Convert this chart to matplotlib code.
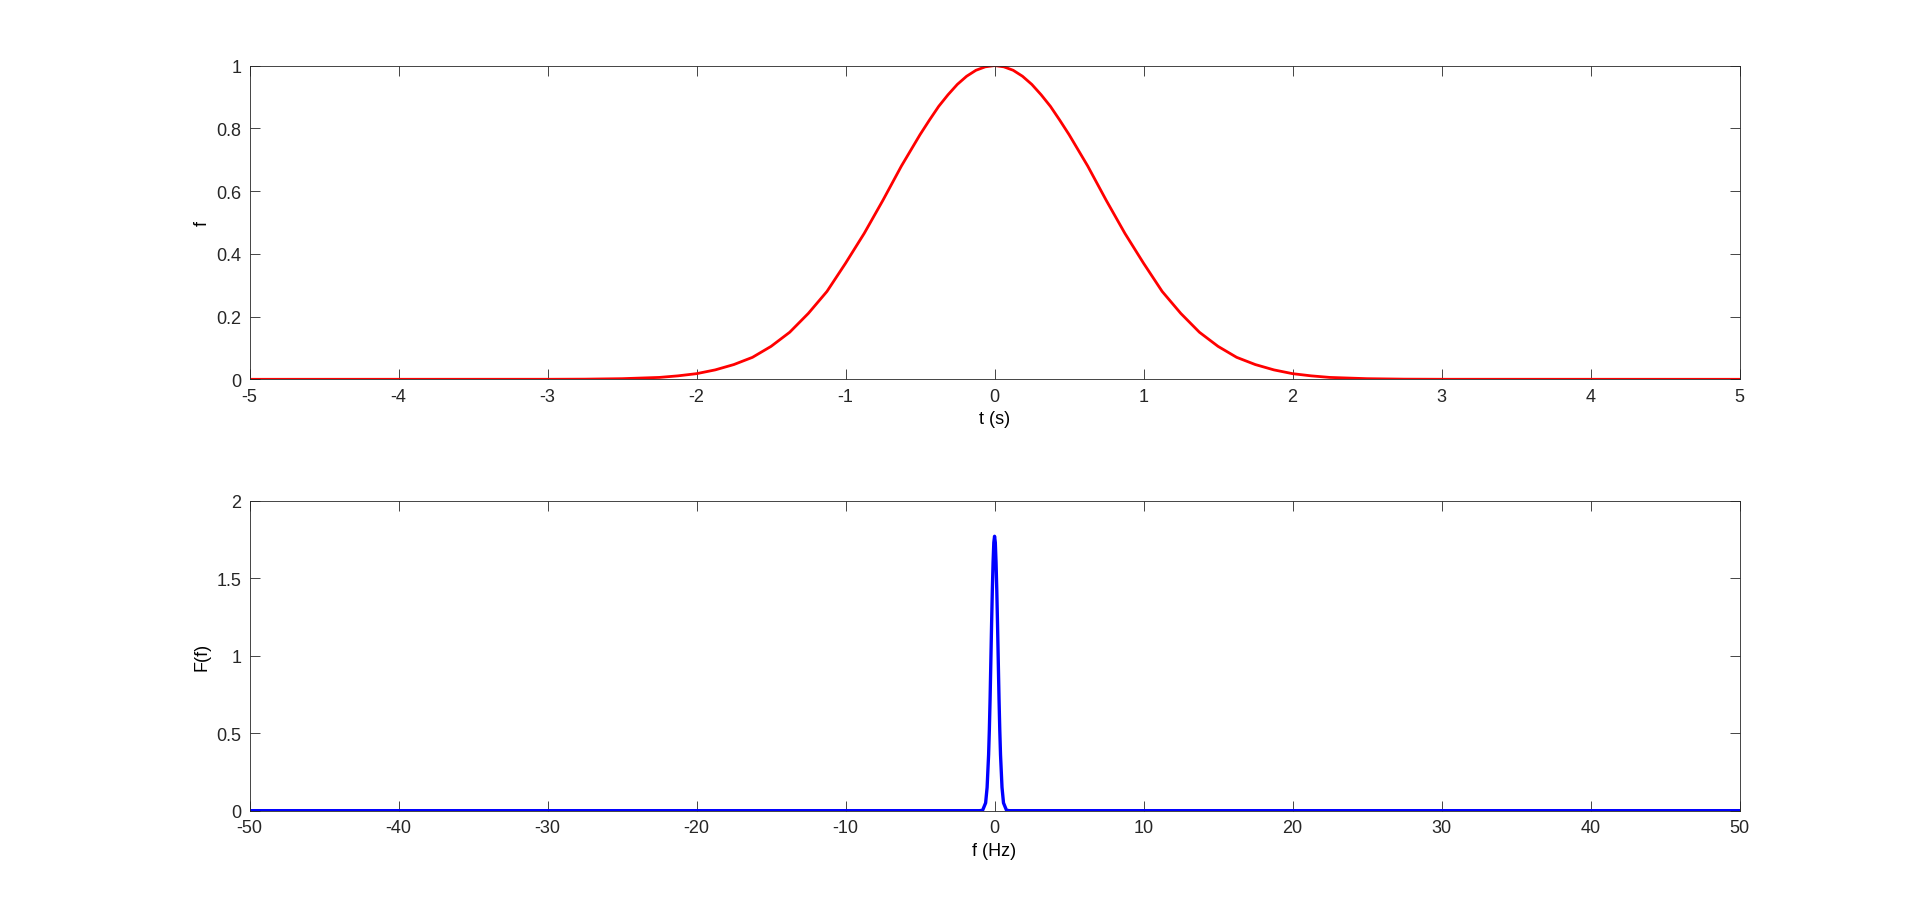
import matplotlib
matplotlib.use("Agg")
import matplotlib.pyplot as plt
import numpy as np

plt.rcParams.update({
    "font.family": ["Liberation Sans", "DejaVu Sans"],
    "font.size": 13,
    "axes.unicode_minus": False,
    "xtick.direction": "in",
    "ytick.direction": "in",
    "xtick.top": True,
    "ytick.right": True,
    "axes.linewidth": 0.6,
})

# time-domain pulse, values (one half; mirrored)
t_half = [0, 0.0625, 0.125, 0.1875, 0.25, 0.3125, 0.375, 0.4375, 0.5, 0.625, 0.75,
          0.875, 1.0, 1.125, 1.25, 1.375, 1.5, 1.625, 1.75, 1.875, 2.0, 2.125,
          2.25, 2.5, 2.75, 3.0, 5.0]
f_half = [1.0, 0.996, 0.985, 0.966, 0.94, 0.907, 0.87, 0.826, 0.78, 0.68, 0.57,
          0.465, 0.37, 0.28, 0.21, 0.15, 0.105, 0.07, 0.047, 0.03, 0.018, 0.011,
          0.006, 0.002, 0.0005, 0.0001, 0.0]

# spectrum magnitude, values (one half; mirrored)
fr_half = [0, 0.05, 0.1, 0.15, 0.2, 0.25, 0.3, 0.35, 0.4, 0.5, 0.6, 0.8, 1.0, 50.0]
F_half = [1.77, 1.73, 1.6, 1.42, 1.2, 0.96, 0.72, 0.52, 0.36, 0.15, 0.05, 0.003, 0.0, 0.0]


def mirror(x, y):
    x = np.array(x)
    y = np.array(y)
    return np.concatenate([-x[:0:-1], x]), np.concatenate([y[:0:-1], y])


t, f = mirror(t_half, f_half)
fr, F = mirror(fr_half, F_half)

fig = plt.figure(figsize=(19.2, 9.12), dpi=100)
ax1 = fig.add_axes([0.130, 0.583, 0.776, 0.344])
ax2 = fig.add_axes([0.130, 0.110, 0.776, 0.340])

ax1.plot(t, f, color="red", linewidth=2)
ax1.set_xlim(-5, 5)
ax1.set_ylim(0, 1)
ax1.set_xticks(range(-5, 6))
ax1.set_yticks([0, 0.2, 0.4, 0.6, 0.8, 1])
ax1.set_yticklabels(["0", "0.2", "0.4", "0.6", "0.8", "1"])
ax1.set_xlabel("t (s)")
ax1.set_ylabel("f")

ax2.plot(fr, F, color="blue", linewidth=2.4)
ax2.set_xlim(-50, 50)
ax2.set_ylim(0, 2)
ax2.set_xticks(range(-50, 51, 10))
ax2.set_yticks([0, 0.5, 1, 1.5, 2])
ax2.set_yticklabels(["0", "0.5", "1", "1.5", "2"])
ax2.set_xlabel("f (Hz)")
ax2.set_ylabel("F(f)")

for ax in (ax1, ax2):
    ax.tick_params(length=7, width=0.6, colors="#262626", pad=6)
    for s in ax.spines.values():
        s.set_color("#262626")

fig.savefig("out.png", dpi=100)
